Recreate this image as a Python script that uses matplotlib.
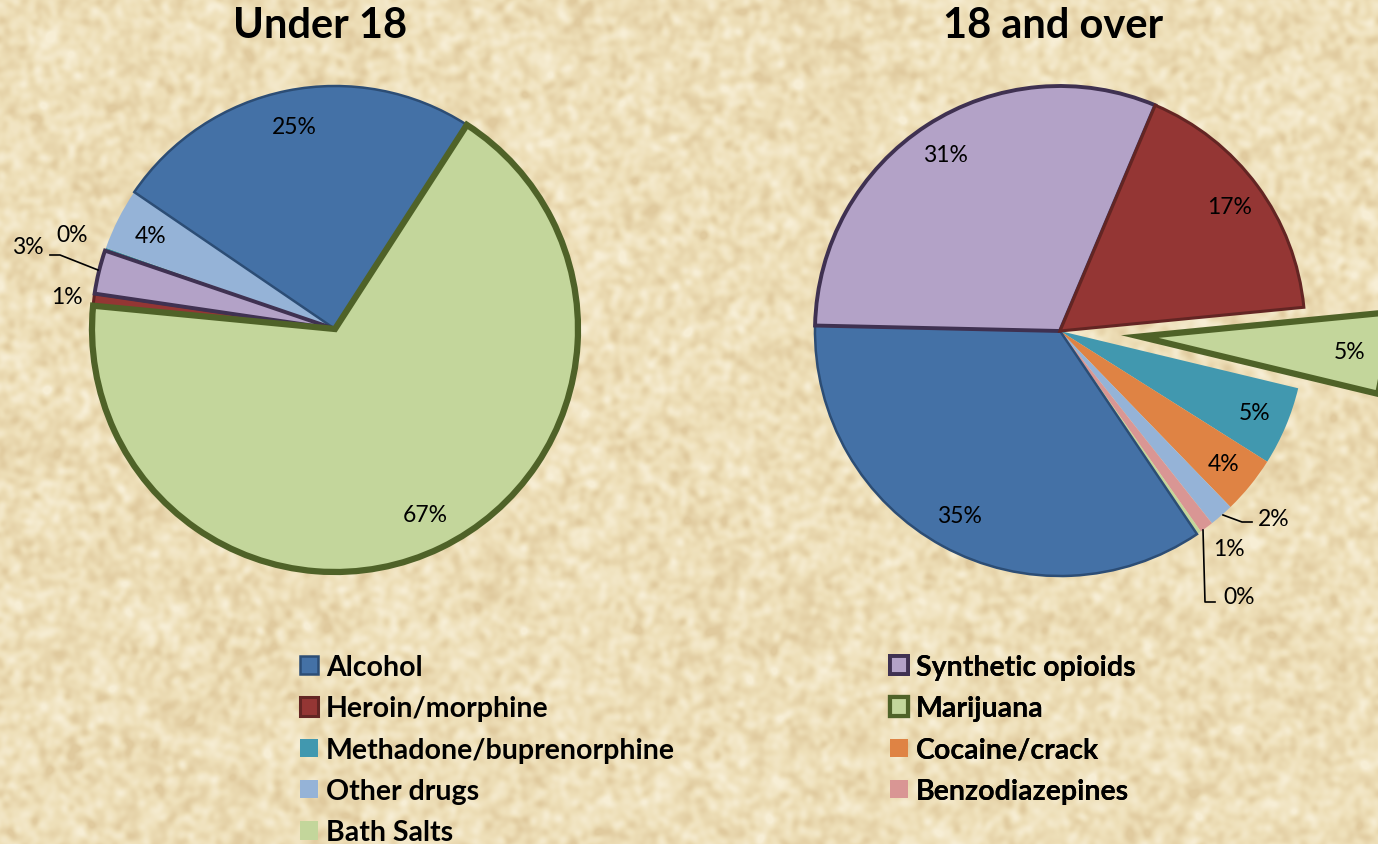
import numpy as np
import matplotlib
matplotlib.use("Agg")
import matplotlib.pyplot as plt
from matplotlib.patches import Patch
from matplotlib.colors import LinearSegmentedColormap

plt.rcParams['font.family'] = ['Lato', 'DejaVu Sans']

# drug categories and colours
colors = {
    'Alcohol': '#4471A6',
    'Heroin/morphine': '#943634',
    'Methadone/buprenorphine': '#4198AF',
    'Other drugs': '#95B3D7',
    'Bath Salts': '#C3D69B',
    'Synthetic opioids': '#B3A2C7',
    'Marijuana': '#C3D69B',
    'Cocaine/crack': '#DF8344',
    'Benzodiazepines': '#D99694',
}
edges = {
    'Alcohol': ('#2C4D75', 1.8),
    'Heroin/morphine': ('#632523', 2.2),
    'Synthetic opioids': ('#3F3151', 2.8),
    'Marijuana': ('#4F6228', 4.5),
}

# Under 18 (clockwise order)
young_labels = ['Alcohol', 'Marijuana', 'Heroin/morphine', 'Synthetic opioids',
                'Methadone/buprenorphine', 'Other drugs']
young_values = [24.6, 67.4, 0.8, 2.9, 0.2, 4.1]

# 18 and over (clockwise order)
adult_labels = ['Alcohol', 'Synthetic opioids', 'Heroin/morphine', 'Marijuana',
                'Methadone/buprenorphine', 'Cocaine/crack', 'Other drugs',
                'Benzodiazepines', 'Bath Salts']
adult_values = [34.8, 31.0, 17.1, 5.3, 5.2, 3.8, 1.6, 0.9, 0.3]

W, H = 1378, 845
fig = plt.figure(figsize=(W / 100, H / 100), dpi=100)

# parchment background
rng = np.random.default_rng(7)
noise = rng.normal(size=(H, W))
fy = np.fft.fftfreq(H)[:, None]
fx = np.fft.fftfreq(W)[None, :]
f = np.sqrt(fx ** 2 + fy ** 2)
spec = np.fft.fft2(noise) * (0.5 * np.exp(-(f / 0.012) ** 2) + np.exp(-(f / 0.07) ** 2))
tex = np.real(np.fft.ifft2(spec))
tex = (tex - tex.mean()) / tex.std()
paper = LinearSegmentedColormap.from_list('paper', ['#E0CA9E', '#EEDFB8', '#F7EED5'])
bg = fig.add_axes([0, 0, 1, 1])
bg.imshow(np.clip(tex, -2.8, 2.8), cmap=paper, aspect='auto', vmin=-2.8, vmax=2.8)
bg.axis('off')

ax = fig.add_axes([0, 0, 1, 1])
ax.patch.set_alpha(0)

FS = 16.5


def draw_pie(values, labels, center, radius, start, explode=None):
    wedges, _ = ax.pie(values, colors=[colors[l] for l in labels], startangle=start,
                       counterclock=False, center=center, radius=radius,
                       explode=explode, wedgeprops=dict(linewidth=0))
    for w, lab in zip(wedges, labels):
        w.set_clip_on(False)
        if lab in edges:
            ec, lw = edges[lab]
            w.set_edgecolor(ec)
            w.set_linewidth(lw)
            w.set_joinstyle('miter')
            w.set_zorder(3 if lab == 'Marijuana' else 2)
    return wedges


def pct_label(w, v, dist=0.85):
    ang = np.deg2rad((w.theta1 + w.theta2) / 2)
    cx, cy = w.center
    x = cx + w.r * dist * np.cos(ang)
    y = cy + w.r * dist * np.sin(ang)
    ax.text(x, y, f'{v:.0f}%', ha='center', va='center', fontsize=FS, zorder=5)


young = draw_pie(young_values, young_labels, (335, H - 330), 243, 145.7)
adult_explode = [0, 0, 0, 80, 0, 0, 0, 0, 0]
adult = draw_pie(adult_values, adult_labels, (1060, H - 332), 245, -56, adult_explode)

for w, v, lab in zip(young, young_values, young_labels):
    if v >= 4:
        pct_label(w, v)
for w, v, lab in zip(adult, adult_values, adult_labels):
    if v >= 3:
        pct_label(w, v, 0.86)

# outside labels with leader lines
ax.text(72, H - 236, '0%', ha='center', va='center', fontsize=FS)
ax.text(28, H - 248, '3%', ha='center', va='center', fontsize=FS)
ax.plot([50, 60, 98], [H - 256, H - 256, H - 271], color='black', lw=1.2)
ax.text(67, H - 298, '1%', ha='center', va='center', fontsize=FS)

ax.text(1274, H - 519, '2%', ha='center', va='center', fontsize=FS)
ax.plot([1223, 1242, 1252], [H - 516, H - 523, H - 523], color='black', lw=1.2)
ax.text(1229, H - 550, '1%', ha='center', va='center', fontsize=FS)
ax.text(1239, H - 598, '0%', ha='center', va='center', fontsize=FS)
ax.plot([1203, 1205, 1215], [H - 531, H - 603, H - 603], color='black', lw=1.2)

ax.text(320, H - 26, 'Under 18', ha='center', va='center', fontsize=30, fontweight='bold')
ax.text(1053, H - 26, '18 and over', ha='center', va='center', fontsize=30, fontweight='bold')


def legend_handle(lab):
    if lab in edges:
        ec, lw = edges[lab]
        return Patch(facecolor=colors[lab], edgecolor=ec, linewidth=min(lw, 3.0))
    return Patch(facecolor=colors[lab], edgecolor='none')


col1 = ['Alcohol', 'Heroin/morphine', 'Methadone/buprenorphine', 'Other drugs', 'Bath Salts']
col2 = ['Synthetic opioids', 'Marijuana', 'Cocaine/crack', 'Benzodiazepines']
for col, x0 in [(col1, 300), (col2, 890)]:
    leg = ax.legend([legend_handle(l) for l in col], col, loc='upper left',
                    bbox_to_anchor=(x0 / W, 1 - 655 / H), frameon=False,
                    prop=dict(weight='bold', size=20.5), handlelength=0.62,
                    handleheight=0.62, handletextpad=0.3, labelspacing=0.54,
                    borderaxespad=0, borderpad=0)
    ax.add_artist(leg)

ax.set_xlim(0, W)
ax.set_ylim(0, H)
ax.set_aspect('auto')
ax.axis('off')

fig.savefig('out.png', dpi=100)
